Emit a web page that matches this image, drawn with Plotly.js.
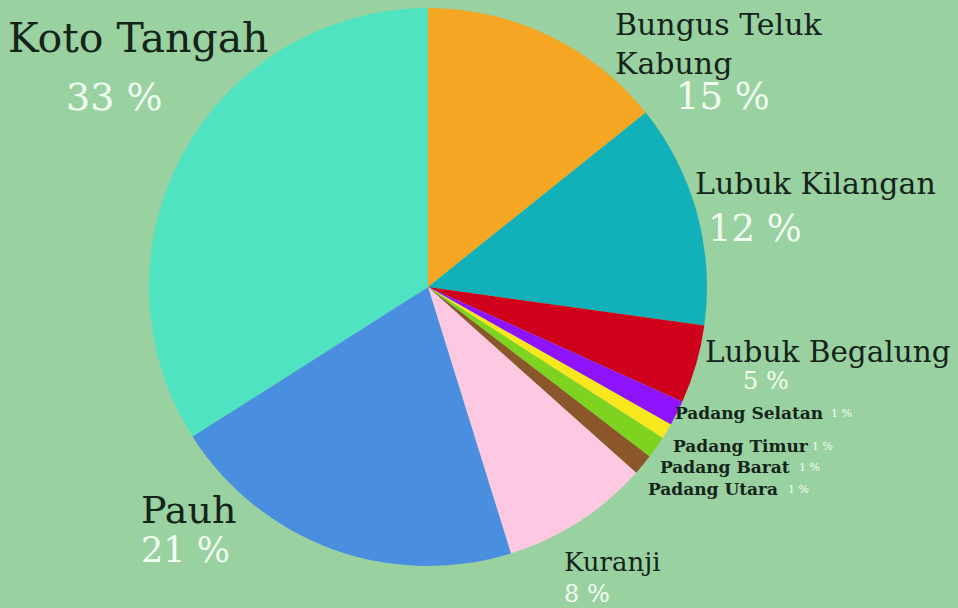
<!DOCTYPE html>
<html><head><meta charset="utf-8">
<script src="https://cdn.plot.ly/plotly-3.0.1.min.js"></script>
<style>html,body{margin:0;padding:0;background:#99d1a0;}</style>
</head><body><div id="chart" style="width:958px;height:608px;"></div>
<script>
const categories = ["Bungus Teluk Kabung","Lubuk Kilangan","Lubuk Begalung","Padang Selatan","Padang Timur","Padang Barat","Padang Utara","Kuranji","Pauh","Koto Tangah"];
const values = [14.25, 12.95, 4.55, 1.45, 0.9, 1.3, 1.2, 8.6, 20.8, 34.0];
const pctLabels = ["15 %","12 %","5 %","1 %","1 %","1 %","1 %","8 %","21 %","33 %"];
const nameLabels = ["Bungus Teluk<br>Kabung","Lubuk Kilangan","Lubuk Begalung","<b>Padang Selatan</b>","<b>Padang Timur</b>","<b>Padang Barat</b>","<b>Padang Utara</b>","Kuranji","Pauh","Koto Tangah"];
const colors = ["#f5a623","#12b1b9","#d0021b","#9013fe","#f8e71c","#7ed321","#8b572a","#fdc8e2","#4a8ee0","#50e3c2"];

// label placement: [x px, y px, name size, pct x px, pct y px, pct size]
const place = [
  [614, 44, 30, 675, 97, 37],
  [694, 183, 30, 707, 228, 37],
  [704, 352, 29.5, 742, 381, 24],
  [674, 413, 17, 830, 413, 11],
  [672, 446, 17, 811, 446, 11],
  [659, 467, 17, 798, 467, 11],
  [647, 489, 17, 787, 489, 11],
  [563, 562, 26, 563, 594, 24],
  [140, 510, 38, 140, 550, 35],
  [7, 38, 41, 65, 97, 38]
];
const W = 958, H = 608;
const ann = [];
categories.forEach((c, i) => {
  const p = place[i];
  ann.push({x: p[0]/W, y: 1 - p[1]/H, xref:'paper', yref:'paper', xanchor:'left', yanchor:'middle',
    text: nameLabels[i], showarrow:false, align:'left', borderpad:0,
    font:{family:'DejaVu Serif', size:p[2], color:'#14241a'}});
  ann.push({x: p[3]/W, y: 1 - p[4]/H, xref:'paper', yref:'paper', xanchor:'left', yanchor:'middle',
    text: pctLabels[i], showarrow:false, borderpad:0,
    font:{family:'DejaVu Serif', size:p[5], color:'#f2fff2'}});
});

const cx = 428, cy = 287, r = 279;
Plotly.newPlot('chart', [{
  type:'pie', labels: categories, values: values, sort:false, direction:'clockwise', rotation:0,
  marker:{colors: colors, line:{width:0}}, textinfo:'none', hoverinfo:'label+percent',
  domain:{x:[(cx-r)/W,(cx+r)/W], y:[1-(cy+r)/H, 1-(cy-r)/H]}
}], {
  width: W, height: H, margin:{l:0,r:0,t:0,b:0},
  paper_bgcolor:'#99d1a0', plot_bgcolor:'#99d1a0', showlegend:false,
  annotations: ann
}, {displayModeBar:false});
</script></body></html>
